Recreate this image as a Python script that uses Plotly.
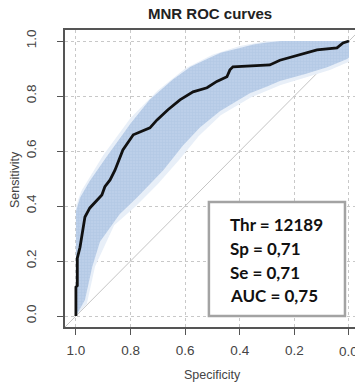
import plotly.graph_objects as go

# ---- data ----
roc_spec = [1.0, 1.0, 0.995, 0.995, 0.985, 0.974, 0.967, 0.949, 0.923, 0.905, 0.894, 0.875,
            0.857, 0.828, 0.79, 0.729, 0.703, 0.663, 0.619, 0.571, 0.52, 0.484, 0.447,
            0.436, 0.425, 0.29, 0.253, 0.18, 0.117, 0.044, 0.022, 0.0]
roc_sens = [0.0, 0.105, 0.11, 0.21, 0.25, 0.31, 0.36, 0.393, 0.42, 0.44, 0.47, 0.495,
            0.53, 0.604, 0.659, 0.684, 0.713, 0.75, 0.786, 0.815, 0.83, 0.853, 0.87,
            0.895, 0.906, 0.913, 0.93, 0.95, 0.968, 0.975, 0.993, 1.0]

band_up_spec = [1.0, 1.0, 0.985, 0.95, 0.887, 0.84, 0.80, 0.73, 0.645, 0.58, 0.52, 0.47, 0.40, 0.35, 0.30, 0.25, 0.0]
band_up_sens = [0.0, 0.38, 0.43, 0.49, 0.58, 0.645, 0.70, 0.786, 0.86, 0.906, 0.935, 0.957, 0.975, 0.987, 0.995, 1.0, 1.0]
band_lo_spec = [1.0, 0.967, 0.94, 0.912, 0.84, 0.777, 0.68, 0.608, 0.546, 0.473, 0.363, 0.30, 0.253, 0.16, 0.08, 0.007, 0.0]
band_lo_sens = [0.0, 0.058, 0.18, 0.27, 0.37, 0.43, 0.53, 0.62, 0.685, 0.745, 0.81, 0.835, 0.855, 0.88, 0.905, 0.935, 0.94]

fringe_up_spec = [1.0, 1.0, 0.98, 0.9, 0.8, 0.7, 0.6, 0.5, 0.4, 0.3, 0.0]
fringe_up_sens = [0.0, 0.40, 0.455, 0.585, 0.72, 0.82, 0.90, 0.95, 0.982, 1.0, 1.0]
fringe_lo_spec = [1.0, 0.96, 0.93, 0.86, 0.78, 0.70, 0.62, 0.55, 0.47, 0.36, 0.25, 0.15, 0.07, 0.0]
fringe_lo_sens = [0.0, 0.045, 0.18, 0.33, 0.40, 0.48, 0.57, 0.655, 0.73, 0.795, 0.84, 0.87, 0.895, 0.925]

diag_spec = [1.04, -0.04]
diag_sens = [-0.04, 1.04]

tick_vals = [1.0, 0.8, 0.6, 0.4, 0.2, 0.0]
tick_text = ["1.0", "0.8", "0.6", "0.4", "0.2", "0.0"]

box_lines = ["Thr = 12189", "Sp = 0,71", "Se = 0,71", "AUC = 0,75"]
box_line_y = [0.331, 0.244, 0.157, 0.073]
box_rect = dict(x0=0.513, x1=0.0147, y0=0.0, y1=0.415)
box_text_x = 0.443

fig = go.Figure()

fig.add_trace(go.Scatter(x=diag_spec, y=diag_sens, mode="lines",
                         line=dict(color="#c4c4c4", width=1), hoverinfo="skip"))

fig.add_trace(go.Scatter(x=fringe_up_spec + fringe_lo_spec[::-1],
                         y=fringe_up_sens + fringe_lo_sens[::-1],
                         fill="toself", fillcolor="#e8eff8", mode="none", hoverinfo="skip"))

fig.add_trace(go.Scatter(x=band_up_spec + band_lo_spec[::-1],
                         y=band_up_sens + band_lo_sens[::-1],
                         fill="toself", fillcolor="#b6cbe6", mode="none",
                         fillpattern=dict(shape="+", fgcolor="#a2bcdc", bgcolor="#bccfe9",
                                          size=3, solidity=0.25, fillmode="overlay"),
                         hoverinfo="skip"))

fig.add_trace(go.Scatter(x=roc_spec, y=roc_sens, mode="lines",
                         line=dict(color="#111111", width=2.8, shape="linear"), hoverinfo="skip"))

fig.add_shape(type="rect", xref="x", yref="y", **box_rect,
              line=dict(color="#a3a3a3", width=2.5), fillcolor="white", layer="above")

for txt, yy in zip(box_lines, box_line_y):
    fig.add_annotation(x=box_text_x, y=yy, xref="x", yref="y", text="<b>" + txt + "</b>",
                       showarrow=False, xanchor="left", yanchor="middle",
                       font=dict(family="Lato", size=17, color="#111111"))

axis_common = dict(
    showgrid=True, gridcolor="#c8c8c8", griddash="dot", gridwidth=1,
    zeroline=False, showline=True, linecolor="#555555", linewidth=1.5,
    ticks="outside", ticklen=6, tickcolor="#555555", tickwidth=1.2,
    tickvals=tick_vals, ticktext=tick_text,
    tickfont=dict(family="Liberation Sans", size=13.5, color="#444444"),
)

fig.update_xaxes(range=[1.04, -0.022], mirror=True, ticklabelstandoff=4, **axis_common)
fig.update_yaxes(range=[-0.04, 1.04], mirror=False, tickangle=-90, ticklabelstandoff=16, **axis_common)

# last x tick label sits on the cropped right edge
fig.add_annotation(text=tick_text[-1], x=tick_vals[-1], xref="x", yref="paper", y=-0.084,
                   showarrow=False, xanchor="center", yanchor="middle",
                   font=dict(family="Liberation Sans", size=13.5, color="#444444"))

fig.add_annotation(text="<b>MNR ROC curves</b>", xref="paper", yref="paper", x=0.5, y=1.057,
                   xanchor="center", yanchor="middle", showarrow=False,
                   font=dict(family="Liberation Sans", size=15, color="#222222"))
fig.add_annotation(text="Specificity", xref="paper", yref="paper", x=0.507, y=-0.162,
                   xanchor="center", yanchor="middle", showarrow=False,
                   font=dict(family="Liberation Sans", size=12.5, color="#444444"))
fig.add_annotation(text="Sensitivity", xref="paper", yref="paper", x=-0.172, y=0.495,
                   xanchor="center", yanchor="middle", showarrow=False, textangle=-90,
                   font=dict(family="Liberation Sans", size=12.5, color="#444444"))

fig.update_layout(width=355, height=385, margin=dict(l=65, r=0, t=30, b=58),
                  plot_bgcolor="white", paper_bgcolor="white", showlegend=False)

fig.write_html("out.html")
